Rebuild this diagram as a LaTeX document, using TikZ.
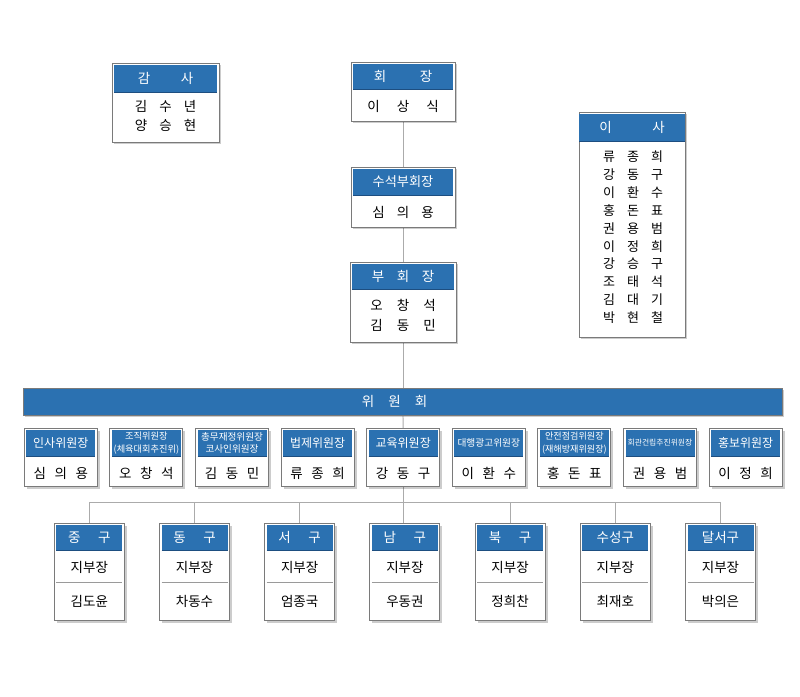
\documentclass[tikz,border=0pt]{standalone}
\usepackage{fontspec}
\setmainfont{Noto Sans CJK KR}
\usetikzlibrary{shadows,backgrounds}
\definecolor{hblue}{HTML}{2B71B1}
\definecolor{hdark}{HTML}{1D4E80}
\definecolor{fgray}{HTML}{7A7A7A}
\definecolor{lgray}{HTML}{ABABAB}
\definecolor{sgray}{HTML}{9A9A9A}
\newcommand\spq[4]{\makebox[#1pt]{#2}\makebox[#1pt]{#3}\makebox[#1pt]{#4}}
\newcommand\spw[3]{\makebox[#1pt]{#2}\makebox[#1pt]{#3}}
\newcommand\fs[2]{\fontsize{#1}{#2}\selectfont}
\begin{document}
\begin{tikzpicture}[x=1pt,y=-1pt,
  frame/.style={draw=fgray, line width=0.9pt, fill=white, inner sep=0pt, outer sep=0pt,
    drop shadow={shadow xshift=2.4pt, shadow yshift=-2.4pt, opacity=0.2, fill=black}},
  hdr/.style={fill=hblue, text=white, inner sep=0pt, outer sep=0pt, align=center},
  hline/.style={draw=hdark, line width=0.9pt},
  conn/.style={draw=lgray, line width=0.9pt},
  body/.style={text=black, inner sep=0pt, align=center},
  sepline/.style={draw=sgray, line width=0.8pt},
]
\useasboundingbox (0,0) rectangle (800,696);

% ---------- 감사 ----------
\node[frame, minimum width=107pt, minimum height=79pt] (gamsa) at (165.5,102.5) {};
\node[hdr, minimum width=103pt, minimum height=27pt, anchor=north, font=\fs{13.5}{15}] (gamsaH) at ([yshift=-2pt]gamsa.north) {\spw{43}{감}{사}};
\draw[hline] (gamsaH.south west) -- (gamsaH.south east);
\node[body, font=\fs{13.5}{18.6}] (gamsaB) at (165.5,116) {\spq{24.5}{김}{수}{년}\\\spq{24.5}{양}{승}{현}};

% ---------- 회장 ----------
\node[frame, minimum width=104pt, minimum height=59pt] (hoe) at (403,91.5) {};
\node[hdr, minimum width=100pt, minimum height=25pt, anchor=north, font=\fs{13.5}{15}] (hoeH) at ([yshift=-2pt]hoe.north) {\spw{46}{회}{장}};
\draw[hline] (hoeH.south west) -- (hoeH.south east);
\node[body, font=\fs{13.5}{15}] (hoeB) at (403,106.7) {\spq{29.5}{이}{상}{식}};

% ---------- 수석부회장 ----------
\node[frame, minimum width=104pt, minimum height=60pt] (susuk) at (403,197) {};
\node[hdr, minimum width=100pt, minimum height=26pt, anchor=north, font=\fs{13.2}{15}] (susukH) at ([yshift=-2pt]susuk.north) {수석부회장};
\draw[hline] (susukH.south west) -- (susukH.south east);
\node[body, font=\fs{13.5}{15}] (susukB) at (403,212.7) {\spq{24.5}{심}{의}{용}};

% ---------- 부회장 ----------
\node[frame, minimum width=106pt, minimum height=80pt] (buhoe) at (403,302) {};
\node[hdr, minimum width=102pt, minimum height=25pt, anchor=north, font=\fs{13.5}{15}] (buhoeH) at ([yshift=-2pt]buhoe.north) {\spq{25}{부}{회}{장}};
\draw[hline] (buhoeH.south west) -- (buhoeH.south east);
\node[body, font=\fs{13.5}{19.3}] (buhoeB) at (403,315.3) {\spq{26.5}{오}{창}{석}\\\spq{26.5}{김}{동}{민}};

% ---------- 이사 ----------
\node[frame, minimum width=106pt, minimum height=225pt] (isa) at (632,224.5) {};
\node[hdr, minimum width=102pt, minimum height=27pt, anchor=north, font=\fs{13.5}{15}] (isaH) at ([yshift=-2pt]isa.north) {\spw{53}{이}{사}};
\draw[hline] (isaH.south west) -- (isaH.south east);
\node[body, font=\fs{13}{17.9}] (isaB) at (633,237.2) {%
\spq{24}{류}{종}{희}\\\spq{24}{강}{동}{구}\\\spq{24}{이}{환}{수}\\\spq{24}{홍}{돈}{표}\\\spq{24}{권}{용}{범}\\%
\spq{24}{이}{정}{희}\\\spq{24}{강}{승}{구}\\\spq{24}{조}{태}{석}\\\spq{24}{김}{대}{기}\\\spq{24}{박}{현}{철}};

% ---------- 위원회 ----------
\node[draw=fgray, line width=0.9pt, fill=hblue, inner sep=0pt, outer sep=0pt, minimum width=759pt, minimum height=27pt,
  drop shadow={shadow xshift=2.4pt, shadow yshift=-2.4pt, opacity=0.2, fill=black}] (wiwon) at (402.5,401.5) {};
\node[text=white, inner sep=0pt, font=\fs{13.5}{15}] (wiwonT) at (394.5,401.5) {\spq{26.5}{위}{원}{회}};

% ---------- 위원장 ----------
\foreach \i/\h/\f/\a/\b/\c in {
  1/{인사위원장}/12/심/의/용,
  2/{조직위원장\\(체육대회추진위)}/9.2/오/창/석,
  3/{총무재정위원장\\코사인위원장}/9.6/김/동/민,
  4/{법제위원장}/12/류/종/희,
  5/{교육위원장}/12/강/동/구,
  6/{대행광고위원장}/9.7/이/환/수,
  7/{안전점검위원장\\(재해방재위원장)}/9.1/홍/돈/표,
  8/{회관건립추진위원장}/7.8/권/용/범,
  9/{홍보위원장}/12/이/정/희}{
  \pgfmathsetmacro\cx{60.8+85.6*(\i-1)}
  \node[frame, minimum width=73pt, minimum height=58.4pt] (c\i) at (\cx,457.5) {};
  \node[hdr, minimum width=69pt, minimum height=26.5pt, anchor=north, font=\fs{\f}{12.6}] (c\i H) at ([yshift=-1.5pt]c\i.north) {\h};
  \draw[hline] (c\i H.south west) -- (c\i H.south east);
  \node[body, font=\fs{13.5}{15}] (c\i B) at (\cx,473.3) {\spq{21}{\a}{\b}{\c}};
}

% ---------- 지부 ----------
\foreach \i/\h/\n in {
  1/{\spw{30}{중}{구}}/김도윤,
  2/{\spw{30}{동}{구}}/차동수,
  3/{\spw{30}{서}{구}}/엄종국,
  4/{\spw{30}{남}{구}}/우동권,
  5/{\spw{30}{북}{구}}/정희찬,
  6/{수성구}/최재호,
  7/{달서구}/박의은}{
  \pgfmathsetmacro\cx{89.3+105.2*(\i-1)}
  \node[frame, minimum width=70pt, minimum height=97.4pt] (d\i) at (\cx,572) {};
  \node[hdr, minimum width=66pt, minimum height=25.7pt, anchor=north, font=\fs{13.5}{15}] (d\i H) at ([yshift=-1.5pt]d\i.north) {\h};
  \draw[hline] (d\i H.south west) -- (d\i H.south east);
  \node[body, font=\fs{13.5}{15}] (d\i A) at (\cx,567.3) {지부장};
  \draw[sepline] (\cx-33,582.3) -- (\cx+33,582.3);
  \node[body, font=\fs{13.5}{15}] (d\i B) at (\cx,601) {\n};
}

% ---------- connectors ----------
\begin{scope}[on background layer]
  \fill[white] (0,0) rectangle (800,696);
  \draw[conn] (hoe.south) -- (susuk.north);
  \draw[conn] (susuk.south) -- (buhoe.north);
  \draw[conn] (buhoe.south) -- (buhoe.south |- wiwon.north);
  \draw[conn] (buhoe.south |- wiwon.south) -- (c5.north);
  \coordinate (bus) at (403,502.3);
  \draw[conn] (c5.south) -- (c5.south |- d4.north);
  \foreach \k in {1,2,3,5,6,7}{
    \draw[conn] (d\k.north) |- (bus);
  }
\end{scope}
\end{tikzpicture}
\end{document}
